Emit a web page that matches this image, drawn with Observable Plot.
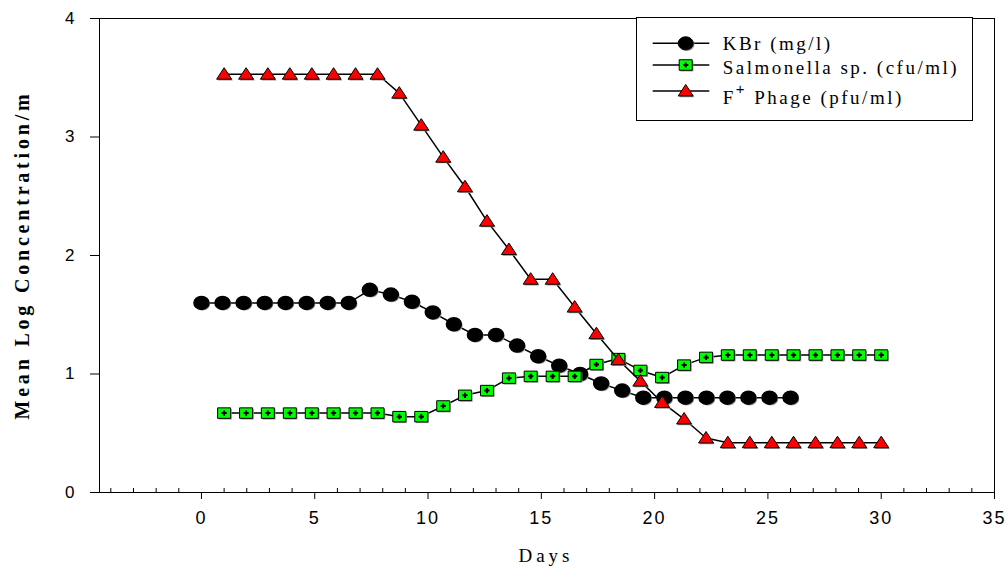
<!DOCTYPE html>
<html><head><meta charset="utf-8">
<script src="https://cdn.jsdelivr.net/npm/d3@7"></script>
<script src="https://cdn.jsdelivr.net/npm/@observablehq/plot@0.6"></script>
<style>
body{margin:0;background:#fff;}
#wrap{position:relative;width:1008px;height:571px;}
#wrap svg{position:absolute;left:0;top:0;}
[aria-label="x-axis tick label"]{font-size:18px;letter-spacing:2px;}
[aria-label="y-axis tick label"]{font-size:17px;}
</style></head><body><div id="wrap"></div>
<script>
// ---- data ----
const seriesLabels = ["KBr (mg/l)", "Salmonella sp. (cfu/ml)", "Phage (pfu/ml)"];
const kbrDays = [0, 0.93, 1.86, 2.79, 3.71, 4.64, 5.57, 6.5, 7.43, 8.36, 9.29, 10.21, 11.14, 12.07, 13.0, 13.93, 14.86, 15.79, 16.71, 17.64, 18.57, 19.5, 20.43, 21.36, 22.29, 23.21, 24.14, 25.07, 26.0];
const kbrValues = [1.60, 1.60, 1.60, 1.60, 1.60, 1.60, 1.60, 1.60, 1.71, 1.67, 1.61, 1.52, 1.42, 1.33, 1.33, 1.24, 1.15, 1.07, 1.00, 0.92, 0.86, 0.80, 0.80, 0.80, 0.80, 0.80, 0.80, 0.80, 0.80];
const sampleDays = [1, 1.97, 2.93, 3.9, 4.87, 5.83, 6.8, 7.77, 8.73, 9.7, 10.67, 11.63, 12.6, 13.57, 14.53, 15.5, 16.47, 17.43, 18.4, 19.37, 20.33, 21.3, 22.27, 23.23, 24.2, 25.17, 26.13, 27.1, 28.07, 29.03, 30];
const salmonellaValues = [0.67, 0.67, 0.67, 0.67, 0.67, 0.67, 0.67, 0.67, 0.64, 0.64, 0.73, 0.82, 0.86, 0.965, 0.98, 0.98, 0.98, 1.08, 1.13, 1.03, 0.97, 1.075, 1.14, 1.16, 1.16, 1.16, 1.16, 1.16, 1.16, 1.16, 1.16];
const phageValues = [3.53, 3.53, 3.53, 3.53, 3.53, 3.53, 3.53, 3.53, 3.37, 3.10, 2.83, 2.58, 2.29, 2.05, 1.80, 1.80, 1.565, 1.34, 1.12, 0.94, 0.76, 0.62, 0.46, 0.42, 0.42, 0.42, 0.42, 0.42, 0.42, 0.42, 0.42];
const xTicks = [0, 5, 10, 15, 20, 25, 30, 35];
const xMinorTicks = [-4, -3, -2, -1, 1, 2, 3, 4, 6, 7, 8, 9, 11, 12, 13, 14, 16, 17, 18, 19, 21, 22, 23, 24, 26, 27, 28, 29, 31, 32, 33, 34];
const yTicks = [0, 1, 2, 3, 4];
const xTitle = "Days";
const yTitle = "Mean Log Concentration/m";

const kbr = kbrDays.map((d, i) => ({day: d, value: kbrValues[i]}));
const salmonella = sampleDays.map((d, i) => ({day: d, value: salmonellaValues[i]}));
const phage = sampleDays.map((d, i) => ({day: d, value: phageValues[i]}));

// ---- marker shapes ----
const ellipseSym = {draw(ctx){const rx=7.5, ry=6.5, k=0.5523;
  ctx.moveTo(rx,0); ctx.bezierCurveTo(rx,ry*k,rx*k,ry,0,ry); ctx.bezierCurveTo(-rx*k,ry,-rx,ry*k,-rx,0);
  ctx.bezierCurveTo(-rx,-ry*k,-rx*k,-ry,0,-ry); ctx.bezierCurveTo(rx*k,-ry,rx,-ry*k,rx,0); ctx.closePath();}};
const rectSym = {draw(ctx){ctx.rect(-6.5,-5.25,13,10.5);}};
const triSym = {draw(ctx){ctx.moveTo(0,-6.5); ctx.lineTo(7.5,5); ctx.lineTo(-7.5,5); ctx.closePath();}};
const plusSym = {draw(ctx){ctx.moveTo(-2.6,0); ctx.lineTo(2.6,0); ctx.moveTo(0,-2.6); ctx.lineTo(0,2.6);}};

const shadow = {fill: "#9a9a9a", stroke: "none", dx: 1.2, dy: 1.2};

const chart = Plot.plot({
  width: 1008, height: 571,
  marginLeft: 99, marginRight: 14, marginTop: 18, marginBottom: 79,
  x: {domain: [-4.5, 35], label: null},
  y: {domain: [0, 4], label: null},
  style: {fontFamily: "'Liberation Sans', Arial, sans-serif", fontSize: "17px", color: "#000", background: "#fff"},
  marks: [
    Plot.frame({stroke: "#000"}),
    Plot.axisX(xTicks, {tickSize: 7, tickPadding: 12, tickFormat: d => String(d), label: null}),
    Plot.axisY(yTicks, {tickSize: 9, tickPadding: 16, tickFormat: d => String(d), label: null}),
    Plot.ruleX(xMinorTicks, {x: d => d, y1: 0, y2: 0, insetTop: -4, stroke: "#000"}),
    Plot.line(kbr, {x: "day", y: "value", stroke: "#000", strokeWidth: 1.5}),
    Plot.dot(kbr, {x: "day", y: "value", symbol: ellipseSym, ...shadow}),
    Plot.dot(kbr, {x: "day", y: "value", symbol: ellipseSym, fill: "#000", stroke: "#000"}),
    Plot.line(salmonella, {x: "day", y: "value", stroke: "#000", strokeWidth: 1.5}),
    Plot.dot(salmonella, {x: "day", y: "value", symbol: rectSym, ...shadow}),
    Plot.dot(salmonella, {x: "day", y: "value", symbol: rectSym, fill: "#00ff00", stroke: "#000", strokeWidth: 1}),
    Plot.dot(salmonella, {x: "day", y: "value", symbol: plusSym, fill: "none", stroke: "#000", strokeWidth: 2}),
    Plot.line(phage, {x: "day", y: "value", stroke: "#000", strokeWidth: 1.5}),
    Plot.dot(phage, {x: "day", y: "value", symbol: triSym, ...shadow}),
    Plot.dot(phage, {x: "day", y: "value", symbol: triSym, fill: "#ff0000", stroke: "#000", strokeWidth: 1})
  ]
});
document.getElementById("wrap").appendChild(chart);

// ---- titles and legend ----
const ov = d3.select("#wrap").append("svg").attr("width", 1008).attr("height", 571)
  .style("font-family", "'Liberation Serif', 'Times New Roman', serif");
ov.append("text").attr("transform", "translate(29,255) rotate(-90)").attr("text-anchor", "middle")
  .attr("font-weight", "bold").attr("font-size", 20).attr("letter-spacing", 3.8).text(yTitle);
ov.append("text").attr("x", 546).attr("y", 562).attr("text-anchor", "middle")
  .attr("font-size", 19).attr("letter-spacing", 4).text(xTitle);

const lg = ov.append("g");
lg.append("rect").attr("x", 636.5).attr("y", 17.5).attr("width", 336).attr("height", 103)
  .attr("fill", "#fff").attr("stroke", "#000");
const rows = [
  {sym: ellipseSym, fill: "#000", my: 43.3, by: 49.5},
  {sym: rectSym, fill: "#00ff00", my: 65, by: 73.5, plus: true},
  {sym: triSym, fill: "#ff0000", my: 91, by: 104, sup: true}
];
rows.forEach((r, i) => {
  lg.append("line").attr("x1", 652.7).attr("x2", 709.3).attr("y1", r.my).attr("y2", r.my)
    .attr("stroke", "#000").attr("stroke-width", 1.5);
  const d = d3.symbol(r.sym)();
  lg.append("path").attr("d", d).attr("transform", `translate(686.9,${r.my + 1.2})`).attr("fill", "#9a9a9a");
  lg.append("path").attr("d", d).attr("transform", `translate(685.7,${r.my})`).attr("fill", r.fill).attr("stroke", "#000");
  if (r.plus) lg.append("path").attr("d", d3.symbol(plusSym)()).attr("transform", `translate(685.7,${r.my})`)
    .attr("fill", "none").attr("stroke", "#000").attr("stroke-width", 2);
  const t = lg.append("text").attr("x", 722.7).attr("y", r.by).attr("font-size", 19).attr("letter-spacing", 2.5);
  if (r.sup) {
    t.append("tspan").text("F");
    t.append("tspan").attr("dy", -10).attr("font-size", 15).attr("font-family", "'Liberation Sans', Arial, sans-serif").text("+");
    t.append("tspan").attr("dy", 10).text(" " + seriesLabels[i]);
  } else {
    t.text(seriesLabels[i]);
  }
});
</script></body></html>
